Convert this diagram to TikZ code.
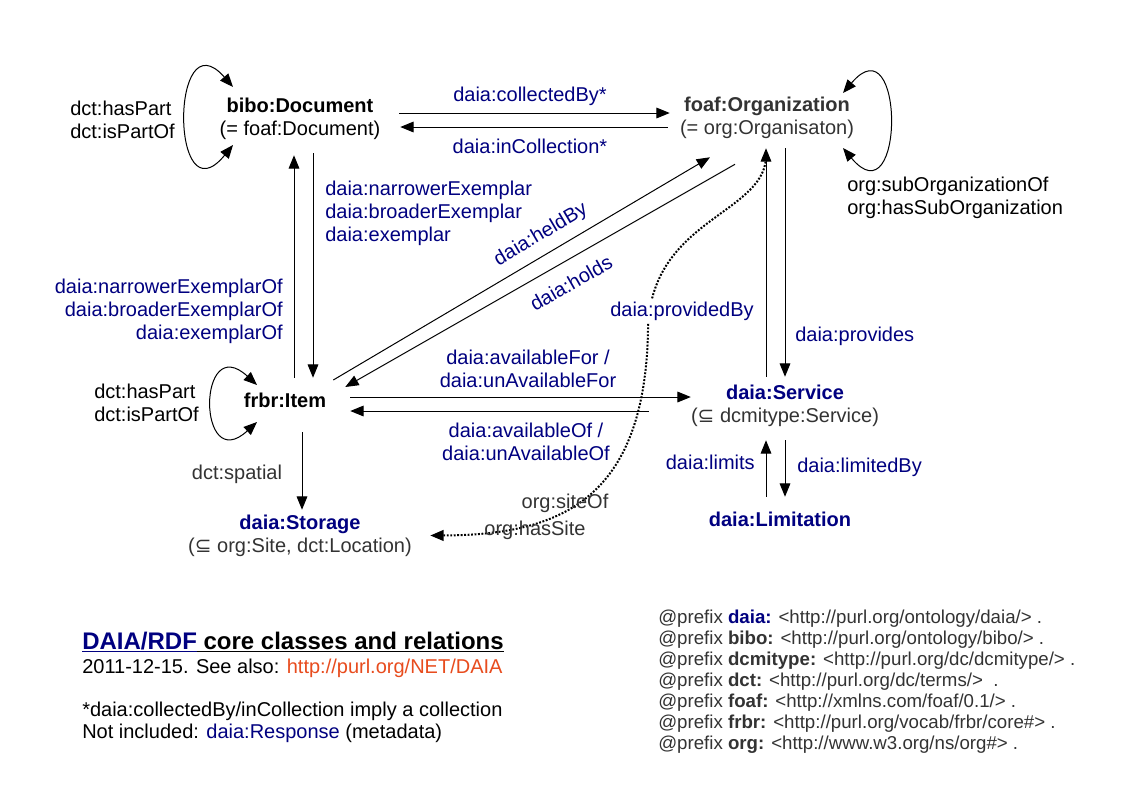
\documentclass[tikz,border=0pt]{standalone}
\usepackage{fontspec}
\setmainfont{Liberation Sans}
\newfontfamily\symfont{DejaVu Sans}
\usetikzlibrary{arrows.meta,calc}
\definecolor{navy}{RGB}{0,0,128}
\definecolor{dgray}{RGB}{51,51,51}
\definecolor{urlred}{RGB}{232,76,30}
\begin{document}
\begin{tikzpicture}[x=0.75pt,y=-0.75pt,
  every node/.style={inner sep=0pt,font=\fontsize{15}{17.25}\selectfont},
  cls/.style={align=center},
  lbl/.style={text=navy},
  arr/.style={-{Triangle[length=10pt,width=8pt]},line width=0.75pt},
  loop/.style={{Triangle[length=10pt,width=8pt]}-{Triangle[length=10pt,width=8pt]},line width=0.75pt},
  dotarr/.style={-{Triangle[length=10pt,width=8pt]},line width=1.5pt,dash pattern=on 1.4pt off 1.2pt}]
\useasboundingbox[fill=white] (0,0) rectangle (1123,794);

% class nodes
\node[cls,minimum width=148.5pt,minimum height=54pt] (doc) at (300,119)
  {\textbf{bibo:Document}\\(= foaf:Document)};
\node[cls,text=dgray,minimum width=145.5pt,minimum height=45pt] (org) at (767,118)
  {\textbf{foaf:Organization}\\(= org:Organisaton)};
\node[cls,minimum width=97.5pt,minimum height=33pt] (item) at (285,400)
  {\textbf{frbr:Item}};
\node[cls,minimum width=109.5pt,minimum height=46.5pt] (service) at (785,406)
  {\textcolor{navy}{\textbf{daia:Service}}\\\textcolor{dgray}{({\symfont ⊆} dcmitype:Service)}};
\node[cls,minimum width=120pt,minimum height=33pt] (limit) at (780,519)
  {\textcolor{navy}{\textbf{daia:Limitation}}};
\node[cls,minimum width=195pt,minimum height=38.25pt] (storage) at (300,535.5)
  {\textcolor{navy}{\textbf{daia:Storage}}\\\textcolor{dgray}{({\symfont ⊆} org:Site, dct:Location)}};

% self loops
\draw[loop] ($(doc)+(-67,-32)$) .. controls +(-63,-72) and +(-63,77) .. ($(doc)+(-67,26)$);
\draw[loop] ($(org)+(76,-25)$) .. controls +(62,-73) and +(62,74) .. ($(org)+(76,30)$);
\draw[loop] ($(item)+(-28,-15)$) .. controls +(-60,-55) and +(-60,55) .. ($(item)+(-28,22)$);
\node[align=left,anchor=west] (lpdoc) at (70,119.5) {dct:hasPart\\dct:isPartOf};
\node[align=left,anchor=west] (lporg) at (847,197.5) {org:subOrganizationOf\\org:hasSubOrganization};
\node[align=left,anchor=west] (lpitem) at (94,403) {dct:hasPart\\dct:isPartOf};

% document <-> organization
\draw[arr] ($(doc.east)+(0,-6)$) -- ($(org.west)+(0,-5)$);
\draw[arr] ($(org.west)+(-2,9)$) -- ($(doc.east)+(1,8)$);
\node[lbl] (lcoll) at (530,96) {daia:collectedBy*};
\node[lbl] (linc) at (530,146) {daia:inCollection*};

% document <-> item
\draw[arr] ($(item.north)+(9,0)$) -- ($(doc.south)+(-6,0)$);
\draw[arr] ($(doc.south)+(13,-2)$) -- ($(item.north)+(28,0)$);
\node[lbl,align=left,anchor=west] (lex) at (325,213)
  {daia:narrowerExemplar\\daia:broaderExemplar\\daia:exemplar};
\node[lbl,align=right,anchor=east] (lexof) at (283,311)
  {daia:narrowerExemplarOf\\daia:broaderExemplarOf\\daia:exemplarOf};

% item <-> organization
\draw[arr] ($(item.east)+(-17,-20)$) -- ($(org.south)+(-57,9)$);
\draw[arr] ($(org.south)+(-32,16)$) -- ($(item.east)+(-5,-13)$);
\node[lbl,rotate=30.6] (lheld) at (541,235) {daia:heldBy};
\node[lbl,rotate=29.8] (lholds) at (571,283) {daia:holds};

% item <-> service
\draw[arr] ($(item.east)+(0,-3)$) -- ($(service.west)+(0,-9)$);
\draw[arr] ($(service.west)+(-42,5)$) -- ($(item.east)+(0,11)$);
\node[lbl,align=center] (lavf) at (528,369) {daia:availableFor /\\daia:unAvailableFor};
\node[lbl,align=center] (lavo) at (526,441.5) {daia:availableOf /\\daia:unAvailableOf};

% service <-> organization
\draw[arr] ($(service.north)+(-19,2)$) -- ($(org.south)+(-1,0)$);
\draw[arr] ($(org.south)+(18,0)$) -- ($(service.north)+(0,2)$);
\node[lbl,anchor=west] (lprov) at (795,336) {daia:provides};

% storage <-> organization (dotted)
\draw[dotarr] ($(org.south)+(-1,10)$) .. controls (762,215) and (650,220) .. (648,330)
  .. controls (645,500) and (560,535) .. (storage.east);
\node[lbl,fill=white,inner sep=2pt] (lprovby) at (682,311) {daia:providedBy};
\node[text=dgray] (lsite) at (565,503) {org:siteOf};
\node[text=dgray] (lhas) at (535,530) {org:hasSite};

% service <-> limitation
\draw[arr] ($(limit.north)+(-14,0)$) -- ($(service.south)+(-19,3)$);
\draw[arr] ($(service.south)+(0,3)$) -- ($(limit.north)+(5,0)$);
\node[lbl,anchor=east] (llim) at (755,462) {daia:limits};
\node[lbl,anchor=west] (llimby) at (797,467) {daia:limitedBy};

% item -> storage
\draw[arr] ($(item.south)+(17,10)$) -- ($(storage.north)+(2,0)$);
\node[text=dgray] (lspat) at (237,474) {dct:spatial};

% legend
\node[anchor=base west,font=\fontsize{18}{20}\selectfont\bfseries] (title) at (82,649)
  {\textcolor{navy}{\underline{DAIA/RDF}}\underline{ core classes and relations}};
\node[anchor=base west] (date) at (82,673)
  {2011-12-15. See also: \textcolor{urlred}{http://purl.org/NET/DAIA}};
\node[anchor=base west] (note1) at (82,716) {*daia:collectedBy/inCollection imply a collection};
\node[anchor=base west] (note2) at (82,738) {Not included: \textcolor{navy}{daia:Response} (metadata)};

\node[anchor=north west,align=left,text=dgray,font=\fontsize{14}{15.75}\selectfont] (prefixes) at (658,610)
  {@prefix \textcolor{navy}{\textbf{daia:}} <http://purl.org/ontology/daia/> .\\
   @prefix \textbf{bibo:} <http://purl.org/ontology/bibo/> .\\
   @prefix \textbf{dcmitype:} <http://purl.org/dc/dcmitype/> .\\
   @prefix \textbf{dct:} <http://purl.org/dc/terms/> \ .\\
   @prefix \textbf{foaf:} <http://xmlns.com/foaf/0.1/> .\\
   @prefix \textbf{frbr:} <http://purl.org/vocab/frbr/core\#> .\\
   @prefix \textbf{org:} <http://www.w3.org/ns/org\#> .};
\end{tikzpicture}
\end{document}
